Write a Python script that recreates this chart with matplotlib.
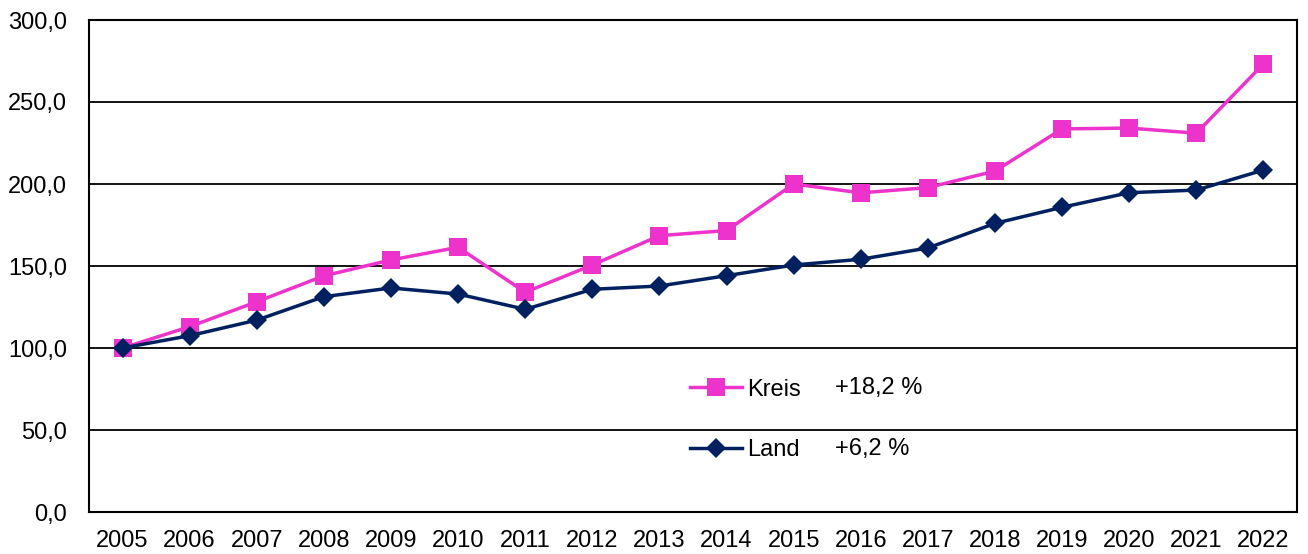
import matplotlib
matplotlib.use("Agg")
import matplotlib.pyplot as plt
from matplotlib.ticker import FuncFormatter

years = [str(y) for y in range(2005, 2023)]
kreis = [100.0, 113.0, 128.2, 144.0, 153.7, 161.4, 134.0, 150.6, 168.5, 171.6,
         200.0, 194.6, 197.8, 207.9, 233.6, 234.1, 231.0, 273.2]
land = [100.0, 107.5, 117.0, 131.3, 136.6, 132.9, 123.6, 135.8, 137.8, 144.1,
        150.6, 154.1, 161.0, 176.0, 185.8, 194.7, 196.3, 208.5]
series_labels = ["Kreis", "Land"]
changes = ["+18,2 %", "+6,2 %"]
yticks = [0, 50, 100, 150, 200, 250, 300]

plt.rcParams['font.family'] = ['Liberation Sans', 'DejaVu Sans']

fig = plt.figure(figsize=(13.08, 5.54), dpi=100)
ax = fig.add_axes([89/1308, 42/554, (1297-89)/1308, (512-20)/554])

x = list(range(len(years)))
l1, = ax.plot(x, kreis, color='#EE33CC', lw=2.5, marker='s', ms=13,
              markeredgewidth=0, label=series_labels[0], zorder=3)
l2, = ax.plot(x, land, color='#002060', lw=2.5, marker='D', ms=10,
              markeredgewidth=0, label=series_labels[1], zorder=4)

ax.set_xlim(-0.5, len(years) - 0.5)
ax.set_ylim(0, 300)
ax.set_yticks(yticks)
ax.yaxis.set_major_formatter(FuncFormatter(lambda v, p: f"{v:.1f}".replace('.', ',')))
ax.set_xticks(x)
ax.set_xticklabels(years)
ax.tick_params(axis='both', length=0, labelsize=17, colors='black')
ax.tick_params(axis='x', pad=13)
ax.tick_params(axis='y', pad=16)
for v in yticks[1:-1]:
    ax.axhline(v, color='black', lw=1.3, zorder=1)
for s in ax.spines.values():
    s.set_linewidth(1.5)
    s.set_color('black')

leg = ax.legend(handles=[l1, l2], loc='center left', frameon=False,
                fontsize=17, handlelength=2.2, handletextpad=0.2,
                labelspacing=1.65, borderpad=0, borderaxespad=0,
                bbox_to_anchor=(690/1308, (554-420)/554),
                bbox_transform=fig.transFigure)
for c, yy in zip(changes, [388, 449]):
    fig.text(835/1308, (554-yy)/554, c, fontsize=17, va='center', ha='left')

fig.savefig("out.png", dpi=100)
